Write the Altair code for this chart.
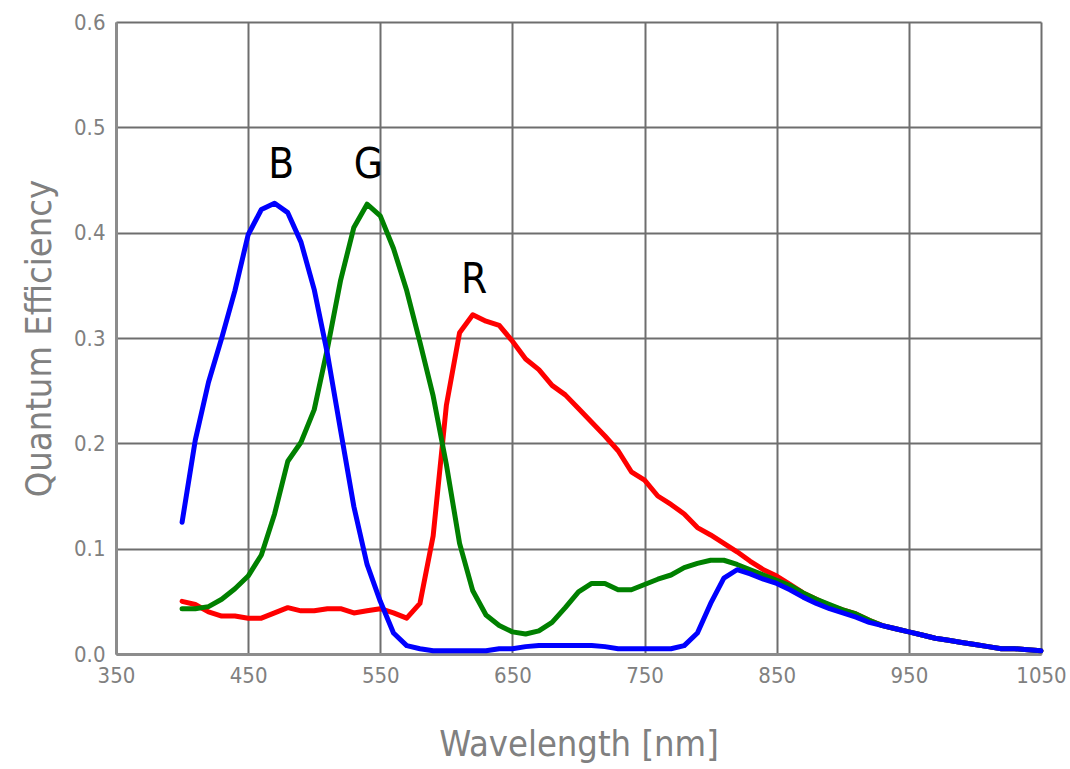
import altair as alt
import pandas as pd

# Spectral quantum efficiency of the R, G and B channels, sampled every 10 nm
wavelength = [400, 410, 420, 430, 440, 450, 460, 470, 480, 490,
              500, 510, 520, 530, 540, 550, 560, 570, 580, 590,
              600, 610, 620, 630, 640, 650, 660, 670, 680, 690,
              700, 710, 720, 730, 740, 750, 760, 770, 780, 790,
              800, 810, 820, 830, 840, 850, 860, 870, 880, 890,
              900, 910, 920, 930, 940, 950, 960, 970, 980, 990,
              1000, 1010, 1020, 1030, 1040, 1050]

qe_blue = [0.125, 0.203, 0.258, 0.300, 0.345, 0.398, 0.422, 0.428, 0.419, 0.391,
           0.346, 0.285, 0.212, 0.140, 0.085, 0.050, 0.020, 0.008, 0.005, 0.003,
           0.003, 0.003, 0.003, 0.003, 0.005, 0.005, 0.007, 0.008, 0.008, 0.008,
           0.008, 0.008, 0.007, 0.005, 0.005, 0.005, 0.005, 0.005, 0.008, 0.020,
           0.048, 0.072, 0.080, 0.076, 0.071, 0.067, 0.061, 0.054, 0.048, 0.043,
           0.039, 0.035, 0.030, 0.027, 0.024, 0.021, 0.018, 0.015, 0.013, 0.011,
           0.009, 0.007, 0.005, 0.005, 0.004, 0.003]

qe_green = [0.043, 0.043, 0.045, 0.052, 0.062, 0.074, 0.094, 0.133, 0.183, 0.201,
            0.232, 0.290, 0.355, 0.405, 0.427, 0.416, 0.385, 0.345, 0.296, 0.245,
            0.180, 0.105, 0.060, 0.037, 0.027, 0.021, 0.019, 0.022, 0.030, 0.044,
            0.059, 0.067, 0.067, 0.061, 0.061, 0.066, 0.071, 0.075, 0.082, 0.086,
            0.089, 0.089, 0.085, 0.080, 0.075, 0.070, 0.065, 0.058, 0.052, 0.047,
            0.042, 0.038, 0.032, 0.027, 0.024, 0.021, 0.018, 0.015, 0.013, 0.011,
            0.009, 0.007, 0.005, 0.005, 0.004, 0.003]

qe_red = [0.050, 0.047, 0.040, 0.036, 0.036, 0.034, 0.034, 0.039, 0.044, 0.041,
          0.041, 0.043, 0.043, 0.039, 0.041, 0.043, 0.039, 0.034, 0.048, 0.112,
          0.236, 0.305, 0.322, 0.316, 0.312, 0.297, 0.280, 0.270, 0.255, 0.246,
          0.233, 0.220, 0.207, 0.193, 0.173, 0.165, 0.150, 0.142, 0.133, 0.120,
          0.113, 0.105, 0.097, 0.088, 0.080, 0.074, 0.066, 0.058, 0.052, 0.046,
          0.042, 0.038, 0.032, 0.027, 0.024, 0.021, 0.018, 0.015, 0.013, 0.011,
          0.009, 0.007, 0.005, 0.005, 0.004, 0.003]

# Channel letters placed next to each peak
label_text = ["B", "G", "R"]
label_x = [475, 541, 621]
label_y = [0.452, 0.452, 0.343]

x_ticks = [350, 450, 550, 650, 750, 850, 950, 1050]
y_ticks = [0.0, 0.1, 0.2, 0.3, 0.4, 0.5, 0.6]

FONT = "Liberation Sans Narrow, DejaVu Sans Condensed, Roboto Condensed, Roboto, sans-serif"
GREY = "#808080"

x_enc = alt.X(
    "wl:Q",
    scale=alt.Scale(domain=[350, 1050], nice=False, zero=False),
    axis=alt.Axis(
        values=x_ticks, format="d", title="Wavelength [nm]",
        titleY=101, titleBaseline="alphabetic", labelFlush=False,
    ),
)
y_enc = alt.Y(
    "qe:Q",
    scale=alt.Scale(domain=[0, 0.6], nice=False),
    axis=alt.Axis(
        values=y_ticks, format=".1f", title="Quantum Efficiency",
        titleX=-66, titleY=316, titleBaseline="alphabetic",
        titleAlign="center", titleAngle=270, labelFlush=False,
    ),
)


def channel(values, colour):
    df = pd.DataFrame({"wl": wavelength, "qe": values})
    return alt.Chart(df).mark_line(
        color=colour, strokeWidth=5, strokeJoin="round", strokeCap="round"
    ).encode(x=x_enc, y=y_enc)


labels_df = pd.DataFrame({"wl": label_x, "qe": label_y, "txt": label_text})
labels = alt.Chart(labels_df).mark_text(
    font=FONT, fontSize=42, color="black", baseline="alphabetic", align="center"
).encode(x=x_enc, y=y_enc, text="txt:N")

chart = alt.layer(
    channel(qe_red, "#ff0000"),
    channel(qe_green, "#008000"),
    channel(qe_blue, "#0000ff"),
    labels,
).properties(
    width=925,
    height=632,
    autosize=alt.AutoSizeParams(type="none"),
    padding={"left": 116, "top": 22, "right": 29, "bottom": 115},
    background="white",
).configure_view(
    stroke=None
).configure_axis(
    grid=True,
    gridColor="#6e6e6e",
    gridWidth=2,
    domainColor="#8c8c8c",
    domainWidth=3,
    ticks=False,
    labelFont=FONT,
    labelFontSize=22,
    labelColor=GREY,
    labelPadding=11,
    titleFont=FONT,
    titleFontSize=36,
    titleFontWeight="normal",
    titleColor=GREY,
)

chart.save("out.html", embed_options={"renderer": "svg", "actions": False})
